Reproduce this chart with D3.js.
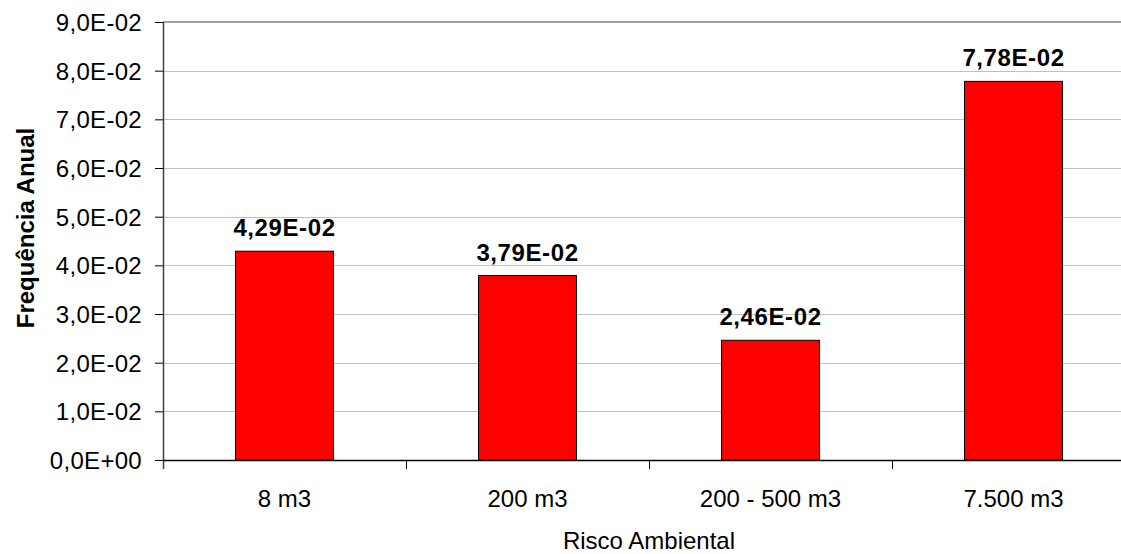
<!DOCTYPE html>
<html>
<head>
<meta charset="utf-8">
<script src="https://cdn.jsdelivr.net/npm/d3@7"></script>
<style>
  html, body { margin: 0; padding: 0; background: #fff; }
  svg { display: block; }
  text { font-family: "Liberation Sans", Arial, sans-serif; fill: #000; }
</style>
</head>
<body>
<svg id="chart" width="1121" height="554"></svg>
<script>
// Annual frequency per storage volume class
const categories = ["8 m3", "200 m3", "200 - 500 m3", "7.500 m3"];
const values = [0.0429, 0.0379, 0.0246, 0.0778];
const valueLabels = ["4,29E-02", "3,79E-02", "2,46E-02", "7,78E-02"];
const yTicks = [0, 0.01, 0.02, 0.03, 0.04, 0.05, 0.06, 0.07, 0.08, 0.09];
const yTickLabels = ["0,0E+00", "1,0E-02", "2,0E-02", "3,0E-02", "4,0E-02",
                     "5,0E-02", "6,0E-02", "7,0E-02", "8,0E-02", "9,0E-02"];
const xTitle = "Risco Ambiental";
const yTitle = "Frequência Anual";

const svg = d3.select("#chart");
const plot = { left: 163, right: 1135, top: 22, bottom: 460 };

const x = d3.scaleBand()
  .domain(categories)
  .range([plot.left, plot.right])
  .paddingInner(0.597)
  .paddingOuter(0.2985);

const y = d3.scaleLinear()
  .domain([0, 0.09])
  .range([plot.bottom, plot.top]);

// horizontal gridlines
svg.append("g")
  .selectAll("line")
  .data(yTicks.slice(1, -1))
  .join("line")
  .attr("x1", plot.left).attr("x2", plot.right)
  .attr("y1", d => Math.round(y(d)) + 0.5).attr("y2", d => Math.round(y(d)) + 0.5)
  .attr("stroke", "#c0c0c0").attr("stroke-width", 1);

// plot area top border
svg.append("line")
  .attr("x1", plot.left).attr("x2", plot.right)
  .attr("y1", plot.top).attr("y2", plot.top)
  .attr("stroke", "#808080").attr("stroke-width", 1.5);

// bars
svg.append("g")
  .selectAll("rect")
  .data(values)
  .join("rect")
  .attr("x", (d, i) => x(categories[i]))
  .attr("width", x.bandwidth())
  .attr("y", d => y(d))
  .attr("height", d => y(0) - y(d))
  .attr("fill", "#ff0000")
  .attr("stroke", "#000")
  .attr("stroke-width", 1);

// value labels
svg.append("g")
  .selectAll("text")
  .data(values)
  .join("text")
  .attr("x", (d, i) => x(categories[i]) + x.bandwidth() / 2)
  .attr("y", d => y(d) - 15)
  .attr("text-anchor", "middle")
  .style("font-size", "24px")
  .style("font-weight", "bold")
  .style("letter-spacing", "0.6px")
  .text((d, i) => valueLabels[i]);

// y axis
const yAxis = d3.axisLeft(y)
  .tickValues(yTicks)
  .tickFormat((d, i) => yTickLabels[i])
  .tickSize(8)
  .tickPadding(13);
const gy = svg.append("g")
  .attr("transform", `translate(${plot.left},0)`)
  .call(yAxis);
gy.select(".domain").remove();
gy.selectAll(".tick line").attr("stroke", "#000");
gy.selectAll(".tick text")
  .style("font-size", "24px")
  .style("letter-spacing", "0.3px")
  .attr("dy", "0.35em");
gy.attr("font-family", null).attr("font-size", null);
svg.append("line")
  .attr("x1", plot.left + 0.5).attr("x2", plot.left + 0.5)
  .attr("y1", plot.top).attr("y2", plot.bottom + 9)
  .attr("stroke", "#404040").attr("stroke-width", 1.5);

// x axis: baseline with ticks between categories
const step = x.step();
const boundaries = d3.range(categories.length + 1).map(i => plot.left + i * step);
svg.append("line")
  .attr("x1", plot.left).attr("x2", plot.right)
  .attr("y1", plot.bottom + 0.5).attr("y2", plot.bottom + 0.5)
  .attr("stroke", "#000").attr("stroke-width", 1.5);
svg.append("g")
  .selectAll("line")
  .data(boundaries.slice(1))
  .join("line")
  .attr("x1", d => Math.round(d) + 0.5).attr("x2", d => Math.round(d) + 0.5)
  .attr("y1", plot.bottom).attr("y2", plot.bottom + 9)
  .attr("stroke", "#000").attr("stroke-width", 1);

svg.append("g")
  .selectAll("text")
  .data(categories)
  .join("text")
  .attr("x", d => x(d) + x.bandwidth() / 2)
  .attr("y", 507)
  .attr("text-anchor", "middle")
  .style("font-size", "24px")
  .text(d => d);

// axis titles
svg.append("text")
  .attr("x", (plot.left + plot.right) / 2)
  .attr("y", 549)
  .attr("text-anchor", "middle")
  .style("font-size", "24px")
  .text(xTitle);

svg.append("text")
  .attr("transform", "translate(34,228) rotate(-90)")
  .attr("text-anchor", "middle")
  .style("font-size", "24px")
  .style("font-weight", "bold")
  .text(yTitle);
</script>
</body>
</html>
